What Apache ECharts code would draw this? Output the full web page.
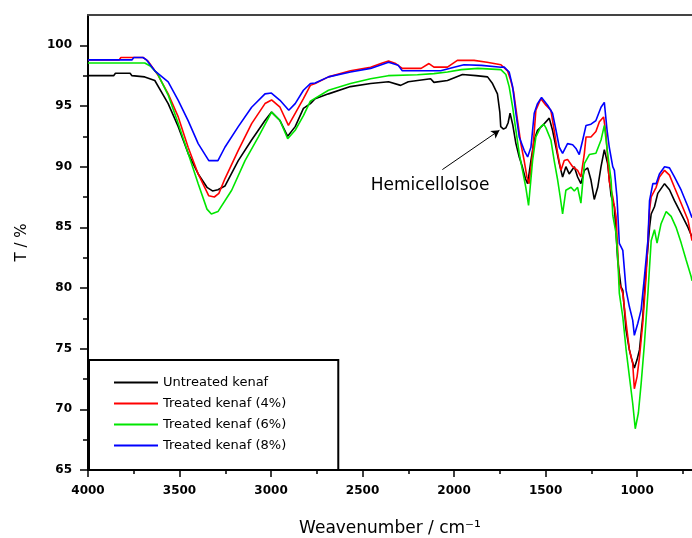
<!DOCTYPE html>
<html>
<head>
<meta charset="utf-8">
<script src="https://cdn.jsdelivr.net/npm/echarts@6/dist/echarts.min.js"></script>
<style>html,body{margin:0;padding:0;background:#fff}#chart{width:692px;height:538px}</style>
</head>
<body>
<div id="chart"></div>
<script>
// ---- data (wavenumber cm-1, transmittance %) ----
const seriesNames = ['Untreated kenaf', 'Treated kenaf (4%)', 'Treated kenaf (6%)', 'Treated kenaf (8%)'];
const xTicks = [1000, 1500, 2000, 2500, 3000, 3500, 4000];
const xMinorTicks = [750, 1250, 1750, 2250, 2750, 3250, 3750];
const yTicks = [65, 70, 75, 80, 85, 90, 95, 100];
const yMinorTicks = [67.5, 72.5, 77.5, 82.5, 87.5, 92.5, 97.5];
const annotationText = 'Hemicellolsoe';
const annotationLabelAt = [2131, 88.45];
const annotationArrow = [[2064, 89.76], [1752, 93.0]];

const untreated = [[4000,97.5],[3860,97.5],[3850,97.7],[3770,97.7],[3760,97.5],[3690,97.4],[3635,97.1],[3562,95.2],[3507,93.3],[3453,91.1],[3398,89.4],[3350,88.3],[3320,88.0],[3290,88.1],[3252,88.4],[3179,90.5],[3106,92.2],[3033,93.8],[2997,94.5],[2951,93.8],[2909,92.5],[2868,93.3],[2823,94.8],[2785,95.2],[2759,95.6],[2686,96.0],[2566,96.6],[2456,96.85],[2358,97.0],[2292,96.7],[2250,97.0],[2128,97.25],[2110,96.95],[2036,97.1],[1954,97.6],[1880,97.5],[1817,97.4],[1790,96.85],[1763,96.0],[1750,94.5],[1745,93.3],[1730,93.1],[1717,93.2],[1705,93.6],[1694,94.4],[1680,93.5],[1662,91.9],[1644,90.8],[1629,90.1],[1610,89.0],[1598,88.6],[1580,90.5],[1562,92.2],[1544,93.0],[1516,93.4],[1480,94.0],[1462,93.0],[1443,91.6],[1425,90.25],[1407,89.15],[1389,90.0],[1371,89.4],[1343,90.0],[1325,89.15],[1307,88.6],[1288,89.7],[1270,89.9],[1252,88.9],[1234,87.3],[1215,88.3],[1197,90.0],[1179,91.4],[1161,90.25],[1142,87.6],[1124,86.7],[1106,82.3],[1088,80.1],[1078,79.8],[1060,76.5],[1042,74.9],[1029,74.1],[1015,73.4],[1000,74.1],[987,74.9],[969,77.6],[951,81.5],[932,85.0],[923,86.1],[905,86.7],[887,87.8],[850,88.6],[823,88.1],[796,87.2],[759,86.1],[722,85.0],[700,84.2]];

const treated4 = [[4000,98.8],[3830,98.8],[3820,99.0],[3700,99.0],[3672,98.7],[3620,97.6],[3562,96.0],[3507,94.1],[3453,91.6],[3398,89.4],[3340,87.6],[3310,87.5],[3285,87.8],[3252,89.0],[3179,91.35],[3106,93.55],[3033,95.2],[2997,95.5],[2951,94.9],[2905,93.4],[2868,94.4],[2823,95.6],[2785,96.7],[2759,96.85],[2686,97.4],[2566,97.9],[2456,98.2],[2392,98.55],[2358,98.7],[2319,98.5],[2283,98.1],[2180,98.1],[2137,98.5],[2110,98.2],[2036,98.2],[1982,98.76],[1891,98.76],[1820,98.6],[1744,98.4],[1708,97.9],[1690,97.1],[1675,96.2],[1653,93.8],[1635,91.9],[1617,90.5],[1602,89.15],[1590,88.6],[1571,91.1],[1553,94.65],[1526,95.6],[1498,95.06],[1471,94.65],[1453,93.0],[1434,91.1],[1416,89.7],[1398,90.5],[1380,90.6],[1352,90.0],[1325,89.7],[1307,89.15],[1288,91.1],[1279,92.45],[1252,92.45],[1225,92.9],[1206,93.7],[1183,94.1],[1170,92.7],[1152,88.8],[1133,87.5],[1115,85.9],[1106,83.1],[1097,80.4],[1078,79.55],[1060,77.1],[1042,74.9],[1024,73.8],[1015,71.7],[1000,72.7],[987,74.3],[969,77.1],[951,80.9],[932,86.4],[923,87.5],[896,88.3],[878,89.15],[850,89.7],[823,89.3],[796,88.3],[759,86.96],[722,85.6],[700,83.9]];

const treated6 = [[4000,98.55],[3690,98.55],[3660,98.3],[3620,97.67],[3562,95.9],[3507,93.55],[3453,91.1],[3398,88.6],[3350,86.5],[3326,86.1],[3290,86.3],[3215,88.06],[3142,90.5],[3069,92.45],[2997,94.5],[2951,93.8],[2909,92.3],[2868,93.0],[2823,94.2],[2785,95.4],[2686,96.3],[2566,96.85],[2456,97.25],[2360,97.5],[2200,97.57],[2110,97.67],[2036,97.8],[1960,98.0],[1870,98.1],[1744,98.0],[1717,97.6],[1699,96.6],[1680,94.9],[1662,93.0],[1644,91.1],[1626,89.7],[1608,88.3],[1593,86.8],[1571,90.5],[1553,92.45],[1526,93.3],[1510,93.5],[1498,93.2],[1471,92.2],[1453,90.5],[1434,88.9],[1420,87.5],[1407,86.1],[1389,88.06],[1361,88.3],[1343,88.0],[1325,88.3],[1307,87.0],[1288,90.25],[1261,91.0],[1225,91.1],[1197,92.2],[1179,93.4],[1161,91.1],[1142,88.9],[1133,86.0],[1115,84.5],[1106,82.6],[1097,79.55],[1078,77.6],[1060,74.9],[1042,72.7],[1024,70.5],[1010,68.4],[993,69.7],[978,72.1],[960,75.4],[941,79.55],[923,83.9],[905,84.8],[891,83.7],[869,85.3],[841,86.3],[814,85.9],[787,85.0],[759,83.7],[732,82.3],[704,80.9],[700,80.6]];

const treated8 = [[4000,98.8],[3760,98.8],[3750,99.0],[3700,99.0],[3680,98.8],[3635,97.9],[3562,96.98],[3507,95.47],[3453,93.8],[3398,91.9],[3340,90.5],[3290,90.5],[3252,91.6],[3179,93.3],[3106,94.9],[3033,96.0],[2998,96.07],[2951,95.47],[2903,94.65],[2868,95.2],[2823,96.3],[2785,96.85],[2759,96.9],[2686,97.4],[2566,97.8],[2456,98.1],[2358,98.6],[2305,98.35],[2283,97.9],[2180,97.9],[2073,97.9],[2000,98.2],[1946,98.4],[1850,98.35],[1744,98.2],[1726,98.2],[1699,97.8],[1680,96.6],[1662,94.4],[1644,92.45],[1617,91.35],[1598,90.8],[1580,91.6],[1562,94.4],[1544,95.2],[1522,95.7],[1489,95.06],[1462,94.4],[1443,93.0],[1425,91.6],[1407,91.1],[1380,91.9],[1352,91.8],[1334,91.5],[1316,91.0],[1297,92.2],[1279,93.4],[1252,93.5],[1225,93.8],[1197,94.9],[1179,95.3],[1164,93.0],[1152,91.6],[1133,90.0],[1124,89.7],[1110,87.5],[1097,83.67],[1078,83.1],[1060,79.8],[1042,78.45],[1024,77.35],[1015,76.1],[996,77.1],[978,78.2],[960,80.9],[941,83.9],[932,87.2],[914,88.6],[896,88.6],[878,89.4],[850,90.0],[823,89.9],[796,89.15],[759,88.06],[722,86.7],[700,85.8]];

const seriesData = [untreated, treated4, treated6, treated8];
const seriesColors = ['#000000', '#ff0000', '#00e600', '#0000ff'];

// ---- chart ----
const chart = echarts.init(document.getElementById('chart'), null, {renderer: 'canvas'});
const X_MIN = 700, X_MAX = 4000, Y_MIN = 65, Y_MAX = 102.5;
const tickFont = {fontFamily: 'DejaVu Sans', fontWeight: 'bold', fontSize: 12, color: '#000'};
const plainNumber = v => String(v);

const series = seriesNames.map((name, i) => ({
  name: name,
  type: 'line',
  data: seriesData[i],
  xAxisIndex: 0,
  yAxisIndex: 0,
  symbol: 'none',
  smooth: false,
  lineStyle: {color: seriesColors[i], width: 1.6},
  itemStyle: {color: seriesColors[i]},
  z: 2 + i
}));
series[0].markLine = {
  silent: true,
  symbol: ['none', 'arrow'],
  symbolSize: [7, 8],
  lineStyle: {color: '#000', width: 1, type: 'solid'},
  label: {show: false},
  data: [[{coord: annotationArrow[0]}, {coord: annotationArrow[1]}]]
};
series[0].markPoint = {
  silent: true,
  symbol: 'rect',
  symbolSize: 1,
  itemStyle: {color: 'rgba(0,0,0,0)'},
  label: {show: true, position: 'inside', formatter: annotationText, fontFamily: 'DejaVu Sans', fontSize: 17, color: '#000'},
  data: [{coord: annotationLabelAt}]
};

const option = {
  animation: false,
  backgroundColor: '#ffffff',
  grid: {left: 88, top: 15, right: 0, bottom: 68, containLabel: false, outerBoundsMode: 'none'},
  legend: {
    orient: 'vertical',
    left: 89,
    top: 360,
    padding: [16, 52, 18, 24],
    itemGap: 8,
    itemWidth: 44,
    itemHeight: 14,
    borderColor: '#000',
    borderWidth: 2,
    backgroundColor: '#fff',
    itemStyle: {color: 'rgba(0,0,0,0)', borderColor: 'rgba(0,0,0,0)', borderWidth: 0},
    lineStyle: {width: 2},
    textStyle: {fontFamily: 'DejaVu Sans', fontSize: 13, color: '#000'},
    data: seriesNames
  },
  xAxis: [
    {
      type: 'value', inverse: true, min: X_MIN, max: X_MAX, position: 'bottom',
      axisLine: {show: true, onZero: false, lineStyle: {color: '#000', width: 2}},
      axisTick: {show: true, customValues: xTicks, length: 7, lineStyle: {color: '#000', width: 1.5}},
      axisLabel: Object.assign({customValues: xTicks, margin: 15, formatter: plainNumber}, tickFont),
      splitLine: {show: false},
      name: 'Weavenumber / cm\u207B\u00B9',
      nameLocation: 'middle',
      nameGap: 50,
      nameTextStyle: {fontFamily: 'DejaVu Sans', fontSize: 17, color: '#000'}
    },
    {
      type: 'value', inverse: true, min: X_MIN, max: X_MAX, position: 'bottom',
      axisLine: {show: false},
      axisTick: {show: true, customValues: xMinorTicks, length: 4, lineStyle: {color: '#000', width: 1.5}},
      axisLabel: {show: false},
      splitLine: {show: false}
    },
    {
      type: 'value', inverse: true, min: X_MIN, max: X_MAX, position: 'top',
      axisLine: {show: true, onZero: false, lineStyle: {color: '#444', width: 2}},
      axisTick: {show: false},
      axisLabel: {show: false},
      splitLine: {show: false}
    }
  ],
  yAxis: [
    {
      type: 'value', min: Y_MIN, max: Y_MAX, position: 'left',
      axisLine: {show: true, onZero: false, lineStyle: {color: '#000', width: 2}},
      axisTick: {show: true, customValues: yTicks, length: 8, lineStyle: {color: '#000', width: 1.5}},
      axisLabel: Object.assign({customValues: yTicks, margin: 16, formatter: plainNumber}, tickFont),
      splitLine: {show: false},
      name: 'T / %',
      nameLocation: 'middle',
      nameGap: 58,
      nameRotate: 90,
      nameTextStyle: {fontFamily: 'DejaVu Sans', fontSize: 15, color: '#000'}
    },
    {
      type: 'value', min: Y_MIN, max: Y_MAX, position: 'left',
      axisLine: {show: false},
      axisTick: {show: true, customValues: yMinorTicks, length: 5, lineStyle: {color: '#000', width: 1.5}},
      axisLabel: {show: false},
      splitLine: {show: false}
    }
  ],
  series: series
};
chart.setOption(option);
</script>
</body>
</html>
